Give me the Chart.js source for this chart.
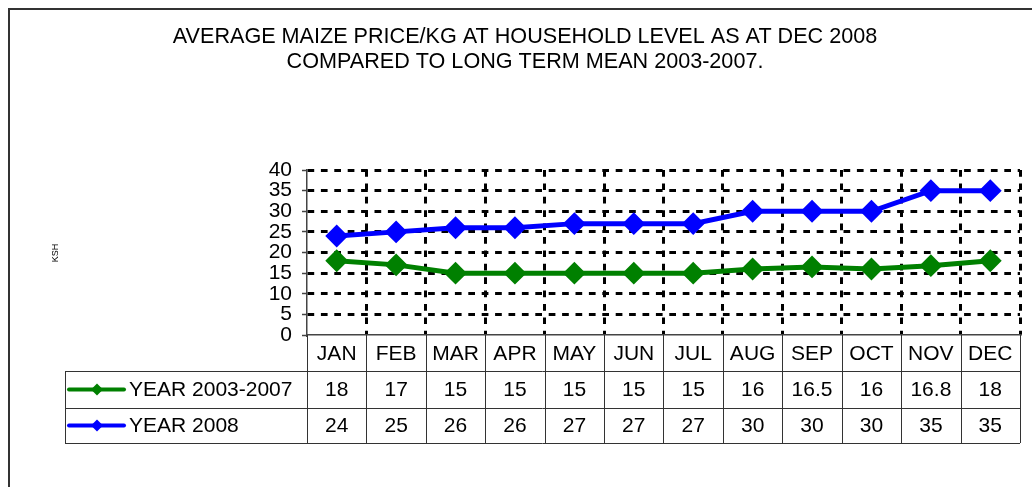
<!DOCTYPE html>
<html>
<head>
<meta charset="utf-8">
<script src="https://cdn.jsdelivr.net/npm/chart.js@4/dist/chart.umd.min.js"></script>
<style>
html,body{margin:0;padding:0;background:#fff;}
canvas{display:block;}
</style>
</head>
<body>
<canvas id="c" width="1032" height="487"></canvas>
<script>
const months = ['JAN','FEB','MAR','APR','MAY','JUN','JUL','AUG','SEP','OCT','NOV','DEC'];
const longTermMean = [18, 17, 15, 15, 15, 15, 15, 16, 16.5, 16, 16.8, 18];
const year2008 = [24, 25, 26, 26, 27, 27, 27, 30, 30, 30, 35, 35];
const meanLabels = ['18','17','15','15','15','15','15','16','16.5','16','16.8','18'];
const y2008Labels = ['24','25','26','26','27','27','27','30','30','30','35','35'];
const seriesNames = ['YEAR 2003-2007', 'YEAR 2008'];
const titleLines = ['AVERAGE MAIZE PRICE/KG AT HOUSEHOLD LEVEL AS AT DEC 2008', 'COMPARED TO LONG TERM MEAN 2003-2007.'];
const yTitle = 'KSH';

const FONT = "'Liberation Sans', Arial, sans-serif";
const GREEN = '#008000';
const BLUE = '#0000FF';
const DASH = [6.7, 6.7];

const decorPlugin = {
  id: 'decor',
  beforeDraw(chart) {
    const ctx = chart.ctx;
    ctx.save();
    ctx.fillStyle = '#fff';
    ctx.fillRect(0, 0, chart.width, chart.height);
    // outer frame
    ctx.strokeStyle = '#333';
    ctx.lineWidth = 2;
    ctx.beginPath();
    ctx.moveTo(9, chart.height);
    ctx.lineTo(9, 9);
    ctx.lineTo(chart.width, 9);
    ctx.stroke();
    // title
    ctx.fillStyle = '#000';
    ctx.font = '21.6px ' + FONT;
    ctx.textAlign = 'center';
    ctx.textBaseline = 'middle';
    ctx.fillText(titleLines[0], 525, 37);
    ctx.fillText(titleLines[1], 525, 62);
    // y title
    ctx.save();
    ctx.translate(56, 253);
    ctx.rotate(-Math.PI / 2);
    ctx.font = '9px ' + FONT;
    ctx.fillText(yTitle, 0, 0);
    ctx.restore();
    ctx.restore();
  },
  afterDraw(chart) {
    const ctx = chart.ctx;
    const x = chart.scales.x;
    const area = chart.chartArea;
    const half = (x.getPixelForValue(1) - x.getPixelForValue(0)) / 2;
    const rows = [area.bottom, 371, 408, 443];
    const tableLeft = 65;
    ctx.save();
    ctx.strokeStyle = '#333';
    ctx.lineWidth = 1;
    ctx.beginPath();
    for (let r = 1; r < rows.length; r++) {
      ctx.moveTo(tableLeft, rows[r] + 0.5);
      ctx.lineTo(area.right, rows[r] + 0.5);
    }
    for (let i = 0; i <= months.length; i++) {
      const px = Math.round(x.getPixelForValue(i) - half) + 0.5;
      ctx.moveTo(px, rows[0]);
      ctx.lineTo(px, rows[3]);
    }
    ctx.moveTo(tableLeft + 0.5, rows[1]);
    ctx.lineTo(tableLeft + 0.5, rows[3]);
    ctx.stroke();

    ctx.fillStyle = '#000';
    ctx.font = '21px ' + FONT;
    ctx.textAlign = 'center';
    ctx.textBaseline = 'middle';
    const rowMid = r => (rows[r] + rows[r + 1]) / 2 + 1;
    months.forEach((m, i) => {
      const px = x.getPixelForValue(i);
      ctx.fillText(m, px, rowMid(0));
      ctx.fillText(meanLabels[i], px, rowMid(1));
      ctx.fillText(y2008Labels[i], px, rowMid(2));
    });

    const colors = [GREEN, BLUE];
    [1, 2].forEach((r, k) => {
      const cy = rowMid(r) - 1;
      ctx.strokeStyle = colors[k];
      ctx.lineWidth = 4;
      ctx.lineCap = 'round';
      ctx.beginPath();
      ctx.moveTo(69, cy);
      ctx.lineTo(124, cy);
      ctx.stroke();
      ctx.fillStyle = colors[k];
      ctx.beginPath();
      ctx.moveTo(97, cy - 6);
      ctx.lineTo(103, cy);
      ctx.lineTo(97, cy + 6);
      ctx.lineTo(91, cy);
      ctx.closePath();
      ctx.fill();
      ctx.fillStyle = '#000';
      ctx.textAlign = 'left';
      ctx.font = '21px ' + FONT;
      ctx.fillText(seriesNames[k], 129, cy + 1);
    });
    ctx.restore();
  }
};

new Chart(document.getElementById('c'), {
  type: 'line',
  data: {
    labels: months,
    datasets: [
      {
        label: seriesNames[0],
        data: longTermMean,
        borderColor: GREEN,
        backgroundColor: GREEN,
        borderWidth: 5,
        pointStyle: 'rectRot',
        pointRadius: 10,
        pointBorderWidth: 2,
        pointBackgroundColor: GREEN,
        pointBorderColor: GREEN,
        tension: 0
      },
      {
        label: seriesNames[1],
        data: year2008,
        borderColor: BLUE,
        backgroundColor: BLUE,
        borderWidth: 5,
        pointStyle: 'rectRot',
        pointRadius: 10,
        pointBorderWidth: 2,
        pointBackgroundColor: BLUE,
        pointBorderColor: BLUE,
        tension: 0
      }
    ]
  },
  options: {
    responsive: false,
    devicePixelRatio: 1,
    animation: false,
    layout: { padding: { top: 170, right: 10, left: 0, bottom: 0 } },
    plugins: {
      legend: { display: false },
      title: { display: false },
      tooltip: { enabled: false }
    },
    scales: {
      x: {
        type: 'category',
        offset: true,
        afterFit: s => { s.height = 152; },
        ticks: { display: false },
        grid: {
          offset: true,
          drawTicks: false,
          lineWidth: 3,
          color: c => (c.index === 0 ? 'rgba(0,0,0,0)' : '#000')
        },
        border: { display: true, color: '#444', width: 1.5, dash: DASH }
      },
      y: {
        min: 0,
        max: 40,
        afterFit: s => { s.width = 307; },
        ticks: {
          stepSize: 5,
          autoSkip: false,
          color: '#000',
          padding: 10,
          font: { family: FONT, size: 21, lineHeight: 1 }
        },
        grid: {
          lineWidth: 3,
          color: c => (c.tick && c.tick.value === 0 ? 'rgba(0,0,0,0)' : '#000'),
          drawTicks: true,
          tickLength: 5,
          tickColor: '#444',
          tickWidth: 1.5,
          tickBorderDash: []
        },
        border: { display: true, color: '#444', width: 1.5, dash: DASH }
      }
    }
  },
  plugins: [decorPlugin]
});
</script>
</body>
</html>
